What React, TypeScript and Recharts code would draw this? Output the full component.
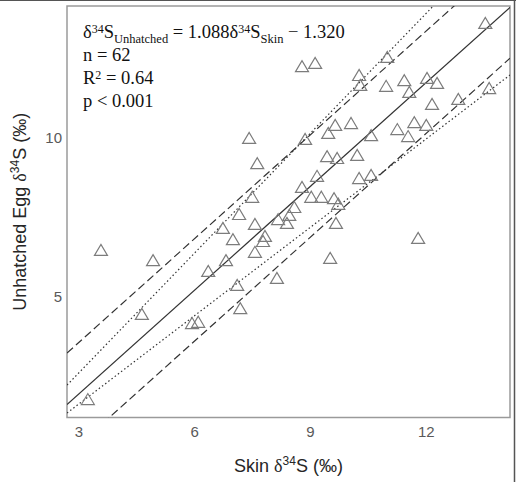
import { type ReactElement } from 'react'
import { ScatterChart, Scatter, XAxis, YAxis, ReferenceLine, ReferenceArea } from 'recharts'

// skin vs unhatched egg δ34S, one entry per egg (n = 62)
const skinD34S = [
  3.23, 3.57, 4.92, 4.63, 5.93, 6.09, 6.35, 6.81, 7.1, 7.18,
  7.56, 6.73, 6.99, 7.15, 7.56, 7.77, 7.82, 8.13, 8.16, 8.39,
  8.45, 8.58, 7.49, 7.41, 7.62, 8.78, 9.02, 9.28, 9.61, 9.72,
  9.66, 9.51, 11.79, 8.86, 9.17, 9.43, 9.69, 10.21, 10.26, 10.57,
  9.46, 9.64, 10.05, 10.57, 11.25, 11.53, 11.69, 12.0, 12.15, 12.83,
  13.63, 11.56, 11.43, 12.02, 12.28, 10.96, 10.26, 10.29, 10.99, 8.78,
  9.12, 13.53,
]
const eggD34S = [
  1.78, 6.47, 6.15, 4.46, 4.17, 4.21, 5.81, 6.15, 5.37, 4.64,
  6.41, 7.16, 6.81, 7.6, 7.29, 6.75, 6.91, 5.59, 7.44, 7.32,
  7.57, 7.82, 8.14, 9.99, 9.2, 8.45, 8.14, 8.14, 8.1, 7.92,
  7.32, 6.22, 6.85, 9.96, 8.8, 9.42, 9.36, 9.46, 8.73, 8.83,
  10.15, 10.4, 10.46, 10.08, 10.27, 10.05, 10.49, 10.4, 11.06, 11.22,
  11.56, 11.44, 11.81, 11.88, 11.72, 11.63, 11.97, 11.66, 12.54, 12.25,
  12.35, 13.61,
]

const xTicks = [3, 6, 9, 12]
const yTicks = [5, 10]
const xDomain: [number, number] = [2.69, 14.17]
const yDomain: [number, number] = [1.2, 14.14]

// fitted line plus the dashed and dotted bands
const fitNames = ['fit', 'dashHigh', 'dashLow', 'dotHigh', 'dotLow']
const fitIntercepts = [-1.32, 0.3, -2.92, -1.16, -1.15]
const fitSlopes = [1.088, 1.088, 1.088, 1.256, 0.926]

const lineDash: Record<string, string | undefined> = {
  fit: undefined,
  dashHigh: '8 4',
  dashLow: '8 4',
  dotHigh: '1.5 2.5',
  dotLow: '1.5 2.5',
}

const points = skinD34S.map((x, i) => ({ x, y: eggD34S[i] }))

const fitSegments = fitNames.map((name, i) => ({
  name,
  segment: xDomain.map((x) => ({ x, y: fitIntercepts[i] + fitSlopes[i] * x })),
}))

const sans = '"Liberation Sans", Arial, sans-serif'
const serif = '"Liberation Serif", "Times New Roman", serif'

function Triangle(props: any): ReactElement | null {
  const { cx, cy } = props
  if (cx == null || cy == null) return null
  return (
    <polygon
      points={`${cx - 6.5},${cy + 5.5} ${cx + 6.5},${cy + 5.5} ${cx},${cy - 5.5}`}
      fill="none"
      stroke="#7c7c7c"
      strokeWidth={1.2}
    />
  )
}

function XLabel(props: any): ReactElement {
  const { viewBox } = props
  const cx = viewBox.x + viewBox.width / 2
  return (
    <text x={cx} y={viewBox.y + 54} textAnchor="middle" fontFamily={sans} fontSize={18} fill="#262626">
      Skin <tspan fontFamily={serif}>δ</tspan>
      <tspan fontSize={12} dy={-7}>34</tspan>
      <tspan dy={7}>S (‰)</tspan>
    </text>
  )
}

function YLabel(props: any): ReactElement {
  const { viewBox } = props
  const cy = viewBox.y + viewBox.height / 2
  const x = 26
  return (
    <text
      x={x}
      y={cy}
      transform={`rotate(-90, ${x}, ${cy})`}
      textAnchor="middle"
      fontFamily={sans}
      fontSize={18}
      fill="#262626"
    >
      Unhatched Egg <tspan fontFamily={serif}>δ</tspan>
      <tspan fontSize={12} dy={-7}>34</tspan>
      <tspan dy={7}>S (‰)</tspan>
    </text>
  )
}

export default function App(): ReactElement {
  return (
    <div style={{ position: 'absolute', left: 0, top: 0, width: 516, height: 482, background: '#fff' }}>
      <ScatterChart width={516} height={482} margin={{ top: 6, right: 6, bottom: 0, left: 0 }}>
        <XAxis
          type="number"
          dataKey="x"
          domain={xDomain}
          ticks={xTicks}
          allowDataOverflow
          height={64.5}
          axisLine={false}
          tickLine={false}
          tickSize={0}
          tickMargin={9}
          tick={{ fill: '#595959', fontSize: 15, fontFamily: sans }}
          label={<XLabel />}
        />
        <YAxis
          type="number"
          dataKey="y"
          domain={yDomain}
          ticks={yTicks}
          allowDataOverflow
          width={67}
          axisLine={false}
          tickLine={false}
          tickSize={0}
          tickMargin={5}
          tick={{ fill: '#595959', fontSize: 15, fontFamily: sans }}
          label={<YLabel />}
        />
        <ReferenceArea
          x1={xDomain[0]}
          x2={xDomain[1]}
          y1={yDomain[0]}
          y2={yDomain[1]}
          fill="none"
          stroke="#9a9a9a"
          strokeWidth={1.5}
        />
        {fitSegments.map((f) => (
          <ReferenceLine
            key={f.name}
            segment={f.segment}
            ifOverflow="hidden"
            stroke="#333"
            strokeWidth={1.2}
            strokeDasharray={lineDash[f.name]}
          />
        ))}
        <Scatter data={points} shape={<Triangle />} isAnimationActive={false} />
      </ScatterChart>
      <svg
        width={516}
        height={482}
        style={{ position: 'absolute', left: 0, top: 0, pointerEvents: 'none' }}
      >
        <g fontFamily={serif} fontSize={18.5} fill="#111">
          <text x={83} y={38}>
            δ<tspan fontSize={12} dy={-5}>34</tspan>
            <tspan dy={5}>S</tspan>
            <tspan fontSize={12.5} dy={5}>Unhatched</tspan>
            <tspan dy={-5}> = 1.088δ</tspan>
            <tspan fontSize={12} dy={-5}>34</tspan>
            <tspan dy={5}>S</tspan>
            <tspan fontSize={12.5} dy={5}>Skin</tspan>
            <tspan dy={-5}> − 1.320</tspan>
          </text>
          <text x={83} y={61}>n = 62</text>
          <text x={83} y={84}>
            R<tspan fontSize={12} dy={-5}>2</tspan>
            <tspan dy={5}> = 0.64</tspan>
          </text>
          <text x={83} y={107}>p &lt; 0.001</text>
        </g>
        <line x1={0} y1={0.5} x2={516} y2={0.5} stroke="#555" strokeWidth={1} />
        <line x1={514.5} y1={0} x2={514.5} y2={482} stroke="#555" strokeWidth={1.5} />
      </svg>
    </div>
  )
}
